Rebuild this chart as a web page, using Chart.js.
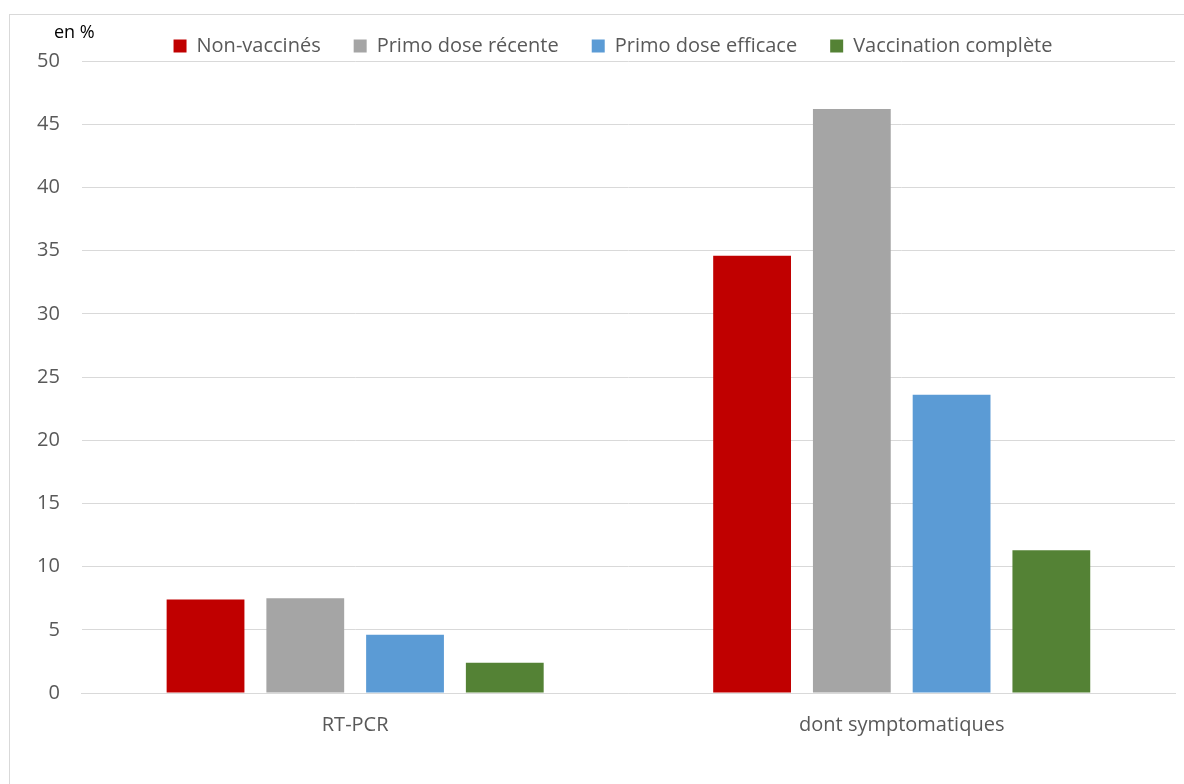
<!DOCTYPE html>
<html>
<head>
<meta charset="utf-8">
<script src="https://cdn.jsdelivr.net/npm/chart.js@4"></script>
<style>
    html, body { margin: 0; padding: 0; background: #fff; }
    .frame {
        position: absolute;
        left: 9px;
        top: 14px;
        width: 1200px;
        height: 800px;
        border-left: 1px solid #d9d9d9;
        border-top: 1px solid #d9d9d9;
    }
    .wrap { position: absolute; left: 0; top: 0; width: 1184px; height: 784px; }
</style>
</head>
<body>
<div class="frame"></div>
<div class="wrap"><canvas id="chart"></canvas></div>
<script>
// données
const categories = ['RT-PCR', 'dont symptomatiques'];
const seriesNames = ['Non-vaccinés', 'Primo dose récente', 'Primo dose efficace', 'Vaccination complète'];
const nonVaccines = [7.4, 34.6];
const primoRecente = [7.5, 46.2];
const primoEfficace = [4.6, 23.6];
const vaccinationComplete = [2.4, 11.3];
const yTicks = [0, 5, 10, 15, 20, 25, 30, 35, 40, 45, 50];
const colors = ['#c00000', '#a5a5a5', '#5b9bd5', '#548235'];

const fontFamily = "'Open Sans', sans-serif";

// texte "en %" au-dessus de l'axe
const unitLabel = {
    id: 'unitLabel',
    afterLayout(chart) {
        // décaler la légende comme dans l'original
        const lg = chart.legend;
        lg.left += 18; lg.right += 18;
        lg.top += 5; lg.bottom += 5;
    },
    afterDraw(chart) {
        const ctx = chart.ctx;
        ctx.save();
        ctx.font = '18px ' + fontFamily;
        ctx.fillStyle = '#000';
        ctx.textAlign = 'left';
        ctx.textBaseline = 'middle';
        ctx.fillText('en %', 54, 33);
        ctx.restore();
    }
};

const seriesData = [nonVaccines, primoRecente, primoEfficace, vaccinationComplete];

new Chart(document.getElementById('chart'), {
    type: 'bar',
    data: {
        labels: categories,
        datasets: seriesNames.map((name, i) => ({
            label: name,
            data: seriesData[i],
            backgroundColor: colors[i],
            borderWidth: 0,
            categoryPercentage: 0.73,
            barPercentage: 0.78
        }))
    },
    options: {
        responsive: true,
        maintainAspectRatio: false,
        animation: false,
        layout: {
            padding: { left: 15, right: 9, top: -2, bottom: 35 }
        },
        plugins: {
            legend: {
                position: 'top',
                labels: {
                    boxWidth: 13,
                    boxHeight: 13,
                    padding: 33,
                    color: '#595959',
                    font: { size: 20, family: fontFamily }
                }
            },
            tooltip: { enabled: false }
        },
        scales: {
            x: {
                grid: { display: false },
                border: { color: '#d9d9d9', width: 1 },
                ticks: {
                    color: '#595959',
                    padding: 12,
                    font: { size: 20, family: fontFamily }
                }
            },
            y: {
                min: 0,
                max: 50,
                afterBuildTicks(axis) {
                    axis.ticks = yTicks.map(v => ({ value: v }));
                },
                grid: { color: '#d9d9d9', lineWidth: 1, drawTicks: false },
                border: { display: false },
                ticks: {
                    color: '#595959',
                    padding: 22,
                    font: { size: 20, family: fontFamily }
                }
            }
        }
    },
    plugins: [unitLabel]
});
</script>
</body>
</html>
